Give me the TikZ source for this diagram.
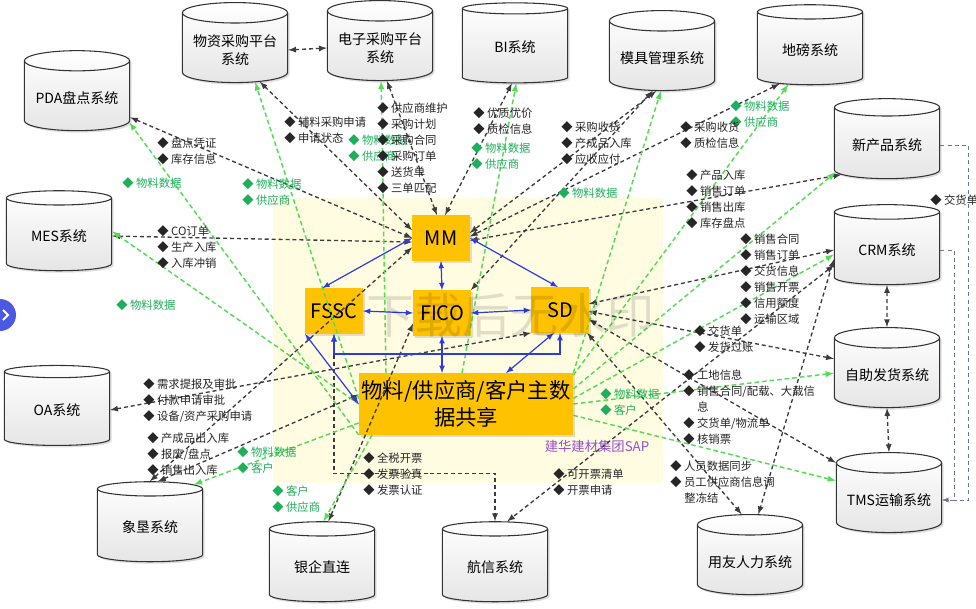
\documentclass[tikz,border=0pt]{standalone}
\usepackage{fontspec}
\setmainfont{Noto Sans CJK SC}
\usetikzlibrary{shapes.geometric,shadows}
\definecolor{boxorange}{RGB}{255,194,0}
\definecolor{linegreen}{RGB}{85,220,85}
\definecolor{textgreen}{RGB}{30,175,90}
\definecolor{arrowblue}{RGB}{45,60,225}
\definecolor{saplilac}{RGB}{150,80,205}
\definecolor{bgyellow}{RGB}{255,252,226}
\definecolor{darkdash}{RGB}{60,60,60}
\definecolor{sidegray}{RGB}{110,120,150}

\begin{document}
\begin{tikzpicture}[x=0.75pt,y=-0.75pt,
  db/.style={cylinder,shape border rotate=90,aspect=0.22,draw=black!80,line width=0.8pt,
    top color=white,bottom color=black!10,minimum width=79pt,minimum height=60pt,
    align=center,font=\fontsize{10.5}{14}\selectfont,
    drop shadow={opacity=0.25,shadow xshift=1.5pt,shadow yshift=-1.5pt}},
  sapbox/.style={fill=boxorange,inner sep=2pt,minimum width=43pt,minimum height=34pt,
    font=\fontsize{15}{18}\selectfont,
    drop shadow={opacity=0.25,shadow xshift=1.5pt,shadow yshift=-1.5pt}},
  flow/.style={dash pattern=on 3pt off 2.2pt,line width=1pt,darkdash,<->,>=latex},
  mdata/.style={dash pattern=on 3.5pt off 2.2pt,line width=1.1pt,linegreen,->,>=latex},
  core/.style={arrowblue,line width=0.9pt,<->,>=latex},
  side/.style={dash pattern=on 3pt off 2.5pt,sidegray,line width=0.6pt,->,>=latex},
  lbl/.style={anchor=north west,align=left,inner sep=0pt,text=black!85,
    font=\fontsize{8.5}{12}\selectfont},
  glbl/.style={lbl,text=textgreen}]

\fill[white] (0,0) rectangle (976,608);
\useasboundingbox (0,0) rectangle (976,608);
\fill[bgyellow] (273,198) rectangle (663,483);
\fill[arrowblue!85] (0,315) circle (12pt);
\draw[white,line width=1.4pt] (3,310) -- (8,315) -- (3,320);

\node[db] (wzcg) at (235,50) {物资采购平台\\系统};
\node[db] (dzcg) at (380,48) {电子采购平台\\系统};
\node[db] (bi) at (515,47) {BI系统};
\node[db] (mjgl) at (662,58) {模具管理系统};
\node[db] (dibang) at (810,50) {地磅系统};
\node[db] (pda) at (77,98) {PDA盘点系统};
\node[db] (xcp) at (887,145) {新产品系统};
\node[db] (mes) at (59,236) {MES系统};
\node[db] (crm) at (887,250) {CRM系统};
\node[db] (zzfh) at (887,375) {自助发货系统};
\node[db] (oa) at (57,410) {OA系统};
\node[db] (tms) at (889,500) {TMS运输系统};
\node[db] (xk) at (150,527) {象垦系统};
\node[db] (yqzl) at (322,567) {银企直连};
\node[db] (hx) at (495,567) {航信系统};
\node[db] (yyrl) at (750,562) {用友人力系统};

\node[sapbox] (mm) at (441,238) {MM};
\node[sapbox] (fssc) at (334,311) {FSSC};
\node[sapbox] (fico) at (442,313) {FICO};
\node[sapbox] (sd) at (560,310) {SD};
\node[sapbox,minimum width=156pt,minimum height=46pt,align=center,
  font=\fontsize{16}{20}\selectfont] (share) at (466,404) {物料/供应商/客户主数\\据共享};
\node[text=saplilac,font=\fontsize{10}{12}\selectfont] (saplbl) at (597,446) {建华建材集团SAP};

\draw[flow] (wzcg.east) -- (dzcg.west);
\draw[flow] (wzcg.-52) -- (mm.165);
\draw[flow] (pda.-20) -- (mm.180);
\draw[flow] (mes.east) -- (mm.188);
\draw[flow] (xk.north) -- (mm.198);
\draw[flow] (dzcg.-78) -- (mm.100);
\draw[flow] (bi.-95) -- (mm.80);
\draw[flow] (mjgl.-100) -- (mm.10);
\draw[flow] (mjgl.-106) -- (fico.north east);
\draw[flow] (dibang.-132) -- (mm.3);
\draw[flow] (xcp.-147) -- (mm.-5);
\draw[flow] (crm.west) -- (sd.12);
\draw[flow] (zzfh.163) -- (sd.-3);
\draw[flow] (tms.145) -- (sd.-18);
\draw[flow] (sd.-40) -- (yyrl.100);
\draw[flow] (crm.190) -- (yyrl.80);
\draw[flow] (crm.196) -- (hx.75);
\draw[flow] (oa.east) -- (sd.south west);
\draw[flow] (xk.80) -- (share.175);
\draw[flow] (yqzl.82) -- (fico.200);
\draw[flow] (fssc.south) |- ([yshift=36pt]hx.north) -- (hx.north);
\draw[flow] (crm.south) -- (zzfh.north);
\draw[flow] (zzfh.south) -- (tms.north);

\draw[mdata] (share.south west) -- (pda.-25);
\draw[mdata] (share.west) -- (mes.5);
\draw[mdata] ([yshift=4pt]share.west) -- (wzcg.-58);
\draw[mdata] ([xshift=-60pt]share.north) -- (dzcg.-88);
\draw[mdata] ([xshift=-3pt]share.north) -- (bi.-88);
\draw[mdata] (share.north east) -- (mjgl.-92);
\draw[mdata] (share.15) -- (dibang.-122);
\draw[mdata] (share.8) -- (xcp.-152);
\draw[mdata] (share.3) -- (crm.185);
\draw[mdata] (share.0) -- (zzfh.178);
\draw[mdata] (share.-6) -- (tms.160);
\draw[mdata] (share.190) -- (xk.44);
\draw[mdata] ([xshift=10pt]share.south west) -- (yqzl.88);

\draw[side] (xcp.east) -| ([xshift=20pt]tms.east) -- (tms.east);
\draw[side] (crm.east) -| ([xshift=9pt]tms.east) -- (tms.east);

\draw[core] (mm.west) -- (fssc.117);
\draw[core] (mm.south) -- (fico.north);
\draw[core] (mm.east) -- (sd.95);
\draw[core] (fssc.east) -- (fico.west);
\draw[core] (fico.east) -- (sd.west);
\draw[core] (fico.south) -- (fico.south |- share.north);
\draw[core] (fssc.south) -- ++(0,20) -| (sd.south);
\draw[core] (sd.-105) -- ([xshift=30pt]share.north);
\draw[core] (fssc.south west) -- (share.west);

\node[lbl] (lpda) at (157,137) {◆ 盘点凭证\\◆ 库存信息};
\node[lbl] (lwz) at (284,116) {◆ 辅料采购申请\\◆ 申请状态};
\node[glbl] (lwzg) at (242,178) {◆ 物料数据\\◆ 供应商};
\node[glbl] (lpdag) at (122,177) {◆ 物料数据};
\node[glbl] (ldzg) at (348,134) {◆ 物料数据\\◆ 供应商};
\node[lbl] (ldz) at (377,102) {◆ 供应商维护\\◆ 采购计划\\◆ 采购合同\\◆ 采购订单\\◆ 送货单\\◆ 三单匹配};
\node[lbl] (lbi) at (473,107) {◆ 优质优价\\◆ 质检信息};
\node[glbl] (lbig) at (471,142) {◆ 物料数据\\◆ 供应商};
\node[lbl] (lmj) at (561,121) {◆ 采购收货\\◆ 产成品入库\\◆ 应收应付};
\node[glbl] (lmjg) at (558,187) {◆ 物料数据};
\node[glbl] (ldbg) at (730,100) {◆ 物料数据\\◆ 供应商};
\node[lbl] (ldb) at (680,121) {◆ 采购收货\\◆ 质检信息};
\node[lbl] (lxcp) at (686,169) {◆ 产品入库\\◆ 销售订单\\◆ 销售出库\\◆ 库存盘点};
\node[lbl] (lcrm) at (740,233) {◆ 销售合同\\◆ 销售订单\\◆ 交货信息\\◆ 销售开票\\◆ 信用额度\\◆ 运输区域};
\node[lbl] (lzz) at (694,325) {◆ 交货单\\◆ 发货过账};
\node[lbl] (ltms) at (683,369) {◆ 工地信息\\◆ 销售合同/配载、大载信\\\hspace*{1.25em}息\\◆ 交货单/物流单\\◆ 核销票};
\node[lbl] (lyy) at (670,460) {◆ 人员数据同步\\◆ 员工供应商信息调\\\hspace*{1.25em}整冻结};
\node[glbl] (lzzg) at (600,388) {◆ 物料数据\\◆ 客户};
\node[lbl] (lhx) at (553,468) {◆ 可开票清单\\◆ 开票申请};
\node[lbl] (lfp) at (363,452) {◆ 全税开票\\◆ 发票验真\\◆ 发票认证};
\node[glbl] (lyqg) at (272,485) {◆ 客户\\◆ 供应商};
\node[glbl] (lxkg) at (237,446) {◆ 物料数据\\◆ 客户};
\node[lbl] (lxk) at (147,432) {◆ 产成品出入库\\◆ 报废/盘点\\◆ 销售出入库};
\node[lbl] (loa) at (143,378) {◆ 需求提报及审批\\◆ 付款申请审批\\◆ 设备/资产采购申请};
\node[lbl] (lmes) at (157,225) {◆ CO订单\\◆ 生产入库\\◆ 入库冲销};
\node[glbl] (lmesg) at (116,299) {◆ 物料数据};
\node[lbl] (lside) at (930,194) {◆ 交货单};

\node[opacity=0.12,font=\fontsize{36}{40}\selectfont] (wmark) at (510,315) {下载后无水印};
\end{tikzpicture}
\end{document}
